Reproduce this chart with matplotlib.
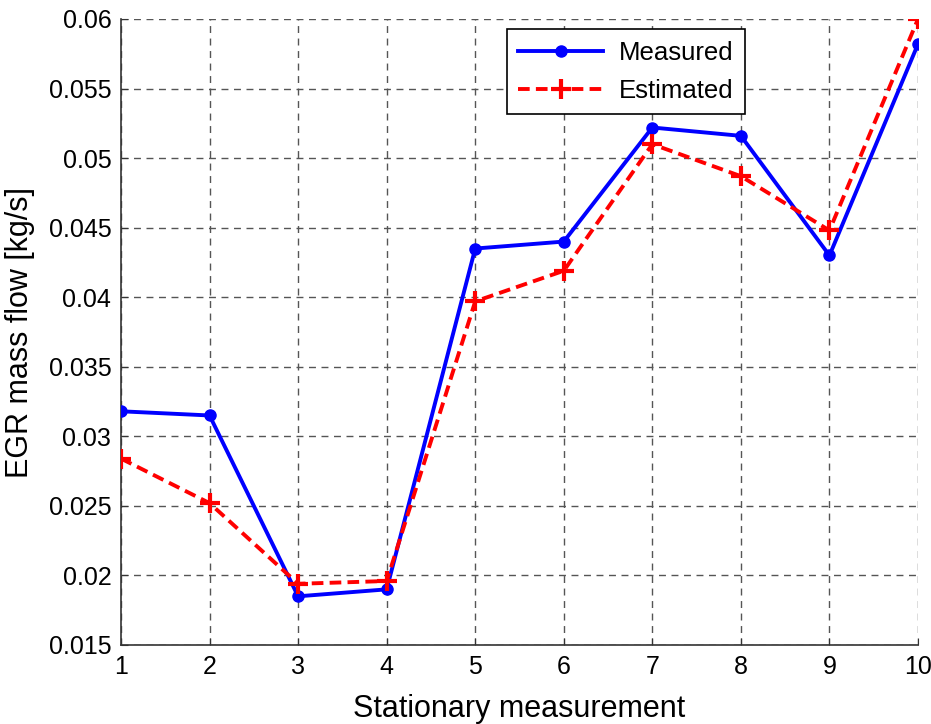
import matplotlib
matplotlib.use("Agg")
from matplotlib import pyplot as plt

# values
measurement = [1, 2, 3, 4, 5, 6, 7, 8, 9, 10]
measured = [0.0318, 0.0315, 0.0185, 0.0190, 0.0435, 0.0440, 0.0522, 0.0516, 0.0430, 0.0582]
estimated = [0.0284, 0.0252, 0.0194, 0.0196, 0.0397, 0.0419, 0.0510, 0.0487, 0.0448, 0.0600]
yticks = [0.015, 0.02, 0.025, 0.03, 0.035, 0.04, 0.045, 0.05, 0.055, 0.06]
ytick_labels = ["0.015", "0.02", "0.025", "0.03", "0.035", "0.04", "0.045", "0.05", "0.055", "0.06"]

plt.rcParams['font.family'] = ['Liberation Sans', 'DejaVu Sans']

fig = plt.figure(figsize=(9.31, 7.24), dpi=100)
ax = fig.add_axes([121 / 931, 1 - 645 / 724, 797 / 931, 626 / 724])

ax.plot(measurement, measured, color="#0000ff", linestyle="-", linewidth=2.8,
        marker="o", markersize=8, label="Measured", zorder=3)
ax.plot(measurement, estimated, color="#ff0000", linestyle=(0, (3, 1.6)), linewidth=2.8,
        marker="+", markersize=14, markeredgewidth=3, label="Estimated", zorder=4)

ax.set_xlim(1, 10)
ax.set_ylim(0.015, 0.06)
ax.set_xticks(measurement)
ax.set_yticks(yticks)
ax.set_yticklabels(ytick_labels)

ax.grid(True, color="#555555", linestyle=(0, (5, 4)), linewidth=1)
ax.set_axisbelow(True)
for side in ["top", "right"]:
    ax.spines[side].set_visible(False)
for side in ["left", "bottom"]:
    ax.spines[side].set_color("#333333")
    ax.spines[side].set_linewidth(1.2)

ax.tick_params(direction="in", length=5, labelsize=18, colors="#333333", labelcolor="black", pad=7)

ax.set_xlabel("Stationary measurement", fontsize=22, labelpad=11)
ax.set_ylabel("EGR mass flow [kg/s]", fontsize=22, labelpad=10)

leg = ax.legend(loc="upper left", bbox_to_anchor=(0.484, 0.984), borderaxespad=0,
                fontsize=18.5, fancybox=False, framealpha=1, handlelength=3.3,
                handletextpad=0.6, borderpad=0.45, labelspacing=0.55)
leg.get_frame().set_edgecolor("black")
leg.get_frame().set_linewidth(1.2)

plt.savefig("out.png", dpi=100)
